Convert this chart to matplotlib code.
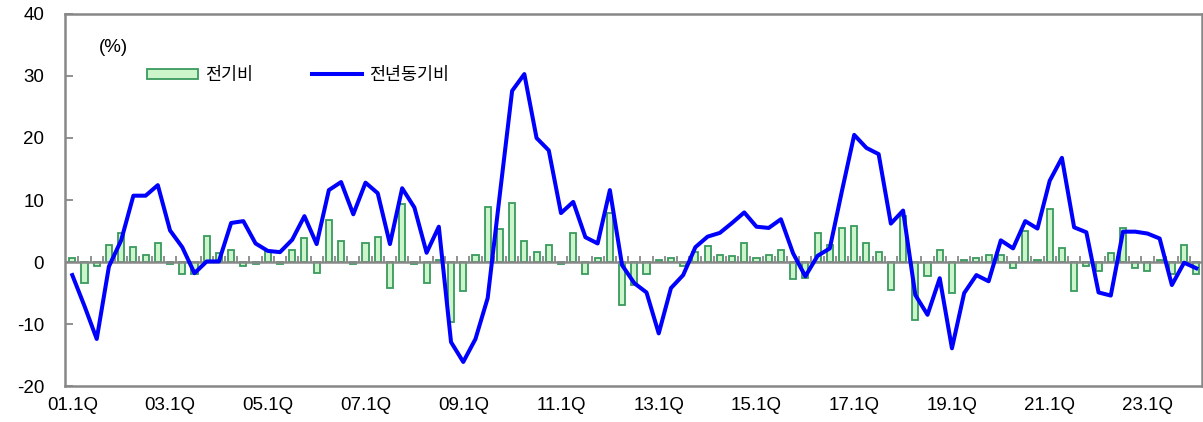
import numpy as np
import matplotlib
matplotlib.use("Agg")
import matplotlib.pyplot as plt

plt.rcParams["font.family"] = ["Liberation Sans", "Noto Sans CJK KR", "DejaVu Sans"]

# quarters 01.1Q .. 24.1Q
years = list(range(2001, 2025))
quarters = [f"{y % 100:02d}.{q}Q" for y in years for q in range(1, 5)][:93]

qoq = [0.6, -3.4, -0.6, 2.8, 4.7, 2.5, 1.1, 3.1, -0.3, -2.0,
       -2.0, 4.2, 1.4, 2.0, -0.6, -0.3, 1.8, -0.3, 1.9, 3.9,
       -1.7, 6.7, 3.4, -0.3, 3.1, 4.1, -4.2, 9.3, -0.3, -3.3,
       0.3, -9.7, -4.7, 1.1, 8.9, 5.3, 9.5, 3.4, 1.6, 2.8,
       -0.3, 4.7, -2.0, 0.6, 7.9, -7.0, -3.7, -2.0, 0.3, 0.6,
       -0.6, 1.6, 2.6, 1.1, 0.9, 3.1, 0.6, 1.1, 2.0, -2.8,
       -2.5, 4.7, 2.7, 5.5, 5.8, 3.0, 1.6, -4.5, 7.5, -9.3,
       -2.2, 1.9, -5.0, 0.3, 0.6, 1.1, 1.1, -0.9, 5.0, 0.3,
       8.6, 2.2, -4.7, -0.6, -1.4, 1.4, 5.5, -0.9, -1.4, 0.3,
       -1.9, 2.7, -1.9]

yoy = [-2.1, -7.1, -12.4, -0.7, 3.5, 10.7, 10.7, 12.4, 5.1, 2.4,
       -1.8, 0.1, 0.1, 6.3, 6.6, 3.0, 1.8, 1.6, 3.6, 7.4,
       2.9, 11.6, 12.9, 7.7, 12.8, 11.1, 2.9, 11.9, 8.8, 1.5,
       5.7, -12.9, -16.1, -12.4, -5.8, 11.0, 27.6, 30.3, 20.0, 18.0,
       7.9, 9.7, 4.0, 3.0, 11.6, -0.5, -3.4, -4.9, -11.5, -4.2,
       -2.1, 2.4, 4.1, 4.7, 6.3, 8.0, 5.7, 5.5, 6.9, 1.4,
       -2.3, 1.0, 2.2, 11.5, 20.5, 18.4, 17.4, 6.2, 8.3, -5.3,
       -8.5, -2.6, -13.9, -5.0, -2.1, -3.1, 3.5, 2.2, 6.6, 5.4,
       13.1, 16.8, 5.6, 4.8, -4.9, -5.4, 4.9, 4.9, 4.6, 3.8,
       -3.7, -0.1, -1.0]

x = np.arange(len(quarters))

fig = plt.figure(figsize=(12.03, 4.22), dpi=100)
ax = fig.add_axes([0.054, 0.085, 0.945, 0.882])

bars = ax.bar(x, qoq, width=0.5, color="#ccf5cc", edgecolor="#3a9a5e", linewidth=1.3,
              label="전기비", zorder=2)
line, = ax.plot(x, yoy, color="#0000ff", linewidth=2.9, label="전년동기비", zorder=4)

# zero line with small category ticks
ax.axhline(0, color="#888888", linewidth=1.8, zorder=3)
ax.vlines(x[:-1] + 0.5, 0, 0.9, color="#888888", linewidth=1.3, zorder=3)

ax.set_xlim(-0.6, 92.45)
ax.set_ylim(-20, 40)
ax.set_yticks(range(-20, 41, 10))
ax.set_yticklabels([str(v) for v in range(-20, 41, 10)], fontsize=13.5)
ax.set_xticks(x[::8])
ax.set_xticklabels(quarters[::8], fontsize=13.5)
ax.tick_params(axis="y", direction="in", length=6, width=1.3, color="#888888", pad=15)
ax.tick_params(axis="x", length=0, pad=8)

for s in ax.spines.values():
    s.set_color("#888888")
    s.set_linewidth(1.8)

ax.text(0.03, 0.91, "(%)", transform=ax.transAxes, fontsize=13.5, va="center")
ax.legend([bars, line], ["전기비", "전년동기비"], loc="center left",
          bbox_to_anchor=(0.0695, 0.836), ncol=2, frameon=False,
          fontsize=12.5, handlelength=2.9, handleheight=0.5, columnspacing=3.4,
          handletextpad=0.4, borderpad=0.2, borderaxespad=0.0)

plt.savefig("out.png", dpi=100)
